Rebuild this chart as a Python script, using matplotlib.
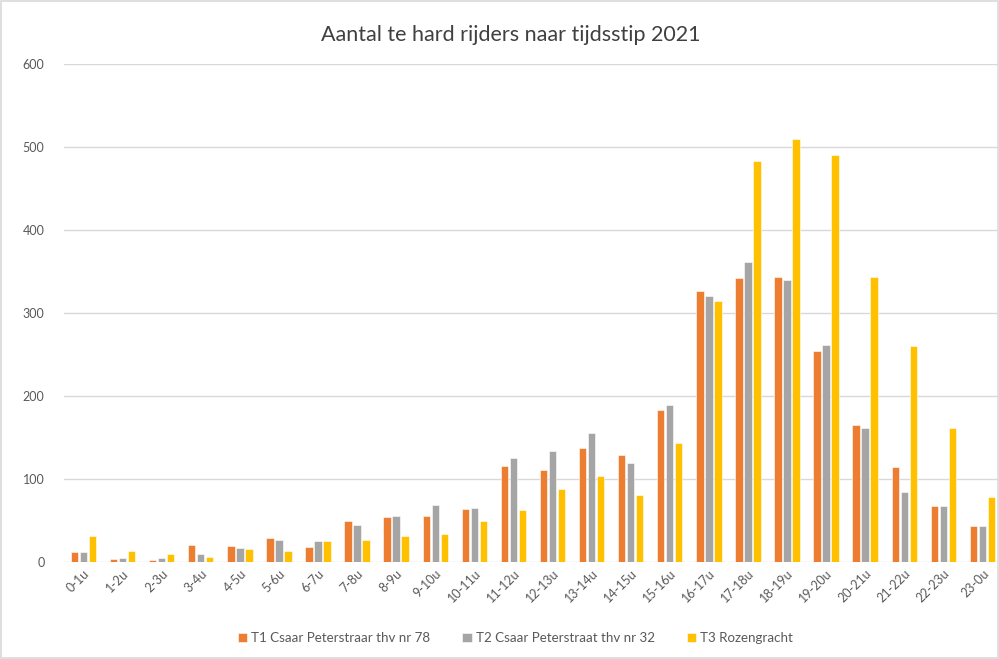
import numpy as np
import matplotlib.pyplot as plt
from matplotlib.patches import Rectangle

plt.rcParams['font.family'] = ['Lato', 'DejaVu Sans']

# data
hours = ['0-1u', '1-2u', '2-3u', '3-4u', '4-5u', '5-6u', '6-7u', '7-8u', '8-9u',
         '9-10u', '10-11u', '11-12u', '12-13u', '13-14u', '14-15u', '15-16u',
         '16-17u', '17-18u', '18-19u', '19-20u', '20-21u', '21-22u', '22-23u', '23-0u']
t1 = [12, 4, 3, 21, 19, 29, 18, 50, 54, 55, 64, 116, 111, 137, 129, 183,
      326, 342, 343, 254, 165, 115, 67, 44]
t2 = [12, 5, 5, 10, 17, 27, 25, 45, 56, 69, 65, 125, 134, 156, 119, 189,
      321, 361, 340, 262, 162, 85, 67, 44]
t3 = [31, 13, 10, 6, 16, 14, 26, 27, 31, 34, 50, 63, 88, 104, 81, 143,
      315, 483, 509, 490, 343, 260, 161, 78]
names = ['T1 Csaar Peterstraar thv nr 78', 'T2 Csaar Peterstraat thv nr 32', 'T3 Rozengracht']
colors = ['#ED7D31', '#A5A5A5', '#FFC000']

fig = plt.figure(figsize=(9.99, 6.59), dpi=100)
fig.patches.append(Rectangle((0.001, 0.001), 0.998, 0.997, transform=fig.transFigure,
                             fill=False, edgecolor='#D9D9D9', linewidth=1.2))
ax = fig.add_axes([0.064, 0.147, 0.939, 0.756])

x = np.arange(len(hours))
w = 0.19
for i, (vals, name, c) in enumerate(zip([t1, t2, t3], names, colors)):
    ax.bar(x + (i - 1) * 0.23, vals, w, color=c, label=name,
           edgecolor='white', linewidth=0.4, zorder=3)

ax.set_xlim(-0.5, len(hours) - 0.5)
ax.set_ylim(0, 600)
ax.set_yticks(range(0, 601, 100))
ax.grid(axis='y', color='#D9D9D9', linewidth=1, zorder=0)
for s in ax.spines.values():
    s.set_visible(False)
ax.tick_params(axis='both', length=0, colors='#595959', labelsize=9)
ax.tick_params(axis='y', pad=14)
ax.set_xticks(x)
ax.set_xticklabels(hours, rotation=45, ha='right', rotation_mode='anchor')

fig.text(0.511, 0.947, 'Aantal te hard rijders naar tijdsstip 2021', fontsize=15.5,
         color='#404040', ha='center', va='center')

fig.legend(loc='center', bbox_to_anchor=(0.516, 0.032), ncol=3, frameon=False,
           fontsize=9.6, handlelength=0.7, handleheight=0.7, handletextpad=0.3,
           columnspacing=2.4, labelcolor='#595959')

fig.savefig('out.png', dpi=100)
